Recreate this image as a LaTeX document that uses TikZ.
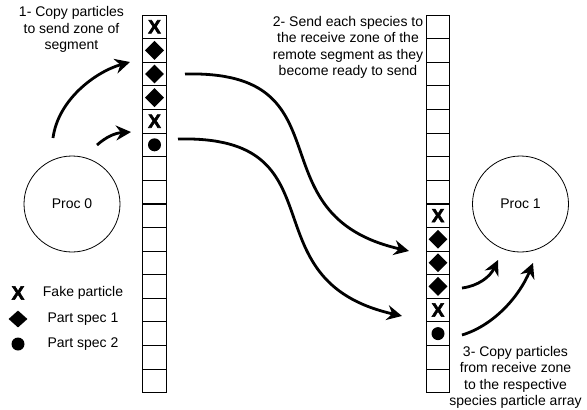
\documentclass[tikz,border=0pt]{standalone}
\usepackage{fontspec}
\setmainfont{Liberation Sans}
\newfontfamily\heavyx[FakeBold=3]{Liberation Sans Bold}
\usetikzlibrary{arrows.meta,shapes.geometric}

\begin{document}
\begin{tikzpicture}[x=1pt,y=-1pt,
  cell/.style={draw, line width=0.8pt, minimum width=23.5pt, minimum height=23.6pt, inner sep=0pt, outer sep=0pt},
  proc/.style={draw, circle, line width=0.8pt, minimum size=96pt, inner sep=0pt, font=\fontsize{14}{16.5}\selectfont},
  lbl/.style={font=\fontsize{14}{16.5}\selectfont, align=center, inner sep=0pt},
  fake/.style={font=\heavyx\fontsize{19}{19}\selectfont, inner sep=0pt},
  spec1/.style={diamond, fill=black, minimum width=19pt, minimum height=19pt, inner sep=0pt},
  spec2/.style={circle, fill=black, minimum size=13pt, inner sep=0pt},
  flow/.style={line width=2.8pt, -{Stealth[length=15pt,width=15pt,inset=5pt]}},
  sepline/.style={line width=2.4pt}
]
\useasboundingbox (0,0) rectangle (587,410);

% segment columns: send segment (left) and receive segment (right)
\foreach \i in {1,...,16}{
  \node[cell] (L\i) at (154.5, {15+(\i-0.5)*23.6}) {};
  \node[cell] (R\i) at (438, {15+(\i-0.5)*23.6}) {};
}
\draw[sepline] (L8.south west) -- (L8.south east);
\draw[sepline] (R8.south west) -- (R8.south east);

% particles in the send zone
\node[fake] (xL1) at (L1) {X};
\node[spec1] (dL2) at (L2) {};
\node[spec1] (dL3) at (L3) {};
\node[spec1] (dL4) at (L4) {};
\node[fake] (xL5) at (L5) {X};
\node[spec2] (cL6) at (L6) {};

% particles in the receive zone
\node[fake] (xR9) at (R9) {X};
\node[spec1] (dR10) at (R10) {};
\node[spec1] (dR11) at (R11) {};
\node[spec1] (dR12) at (R12) {};
\node[fake] (xR13) at (R13) {X};
\node[spec2] (cR14) at (R14) {};

% processes
\node[proc] (p0) at (72,204) {Proc 0};
\node[proc] (p1) at (520.5,204) {Proc 1};

% step labels
\node[lbl] (t1) at (71.5,29.5) {1- Copy particles\\to send zone of\\segment};
\node[lbl] (t2) at (348,47.5) {2- Send each species to\\the receive zone of the\\remote segment as they\\become ready to send};
\node[lbl] (t3) at (515.5,377.5) {3- Copy particles\\from receive zone\\to the respective\\species particle array};

% legend
\node[fake] (lgx) at (18,293) {X};
\node[spec1, minimum height=17pt] (lgd) at (18,319) {};
\node[spec2] (lgc) at (18,344) {};
\node[lbl] (lgxt) at (83,293) {Fake particle};
\node[lbl] (lgdt) at (83,319) {Part spec 1};
\node[lbl] (lgct) at (83,344) {Part spec 2};

% arrow end points
\coordinate (a0) at (53,138);   \coordinate (a1) at (130,62);
\coordinate (b0) at (97,145);   \coordinate (b1) at (131,132);
\coordinate (c0) at (185,74);   \coordinate (c1) at (409,251);
\coordinate (d0) at (178,139);  \coordinate (d1) at (402,316);
\coordinate (e0) at (462,288);  \coordinate (e1) at (498,260);
\coordinate (f0) at (462,335);  \coordinate (f1) at (533,263);

% copy into the send zone
\draw[flow] (a0) .. controls (58,100) and (95,72) .. (a1);
\draw[flow] (b0) .. controls (106,137) and (115,133) .. (b1);
% send to the remote segment
\draw[flow] (c0) .. controls (352,70) and (250,215) .. (c1);
\draw[flow] (d0) .. controls (345,135) and (243,280) .. (d1);
% copy out of the receive zone
\draw[flow] (e0) .. controls (478,286) and (490,277) .. (e1);
\draw[flow] (f0) .. controls (495,325) and (520,295) .. (f1);
\end{tikzpicture}
\end{document}
